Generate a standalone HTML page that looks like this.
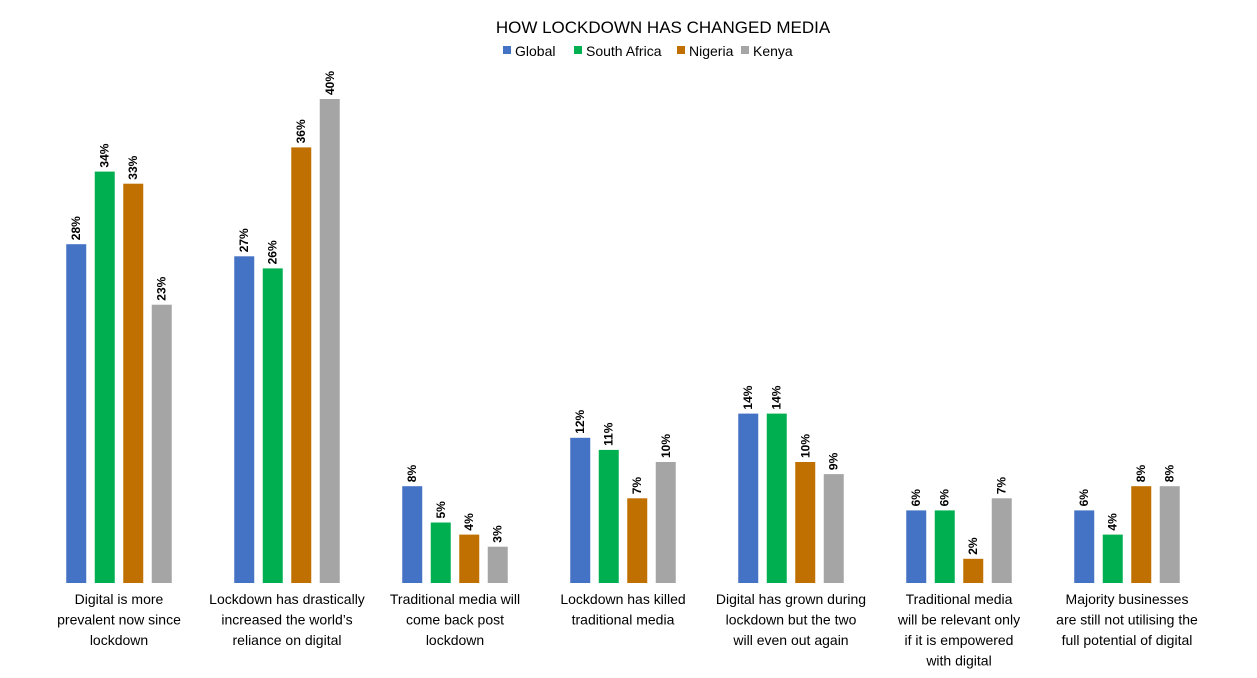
<!DOCTYPE html>
<html><head><meta charset="utf-8"><style>
body{margin:0;background:#fff;font-family:"Liberation Sans",Arial,sans-serif}
svg text{font-family:"Liberation Sans",Arial,sans-serif}
</style></head><body>
<svg id="chart" width="1257" height="673" xmlns="http://www.w3.org/2000/svg">
<text x="663" y="33" text-anchor="middle" font-size="17" fill="#000">HOW LOCKDOWN HAS CHANGED MEDIA</text>
<g id="legend"></g>
<g id="bars"></g>
<g id="cats"></g>
</svg>
<script>
const categories=[["Digital is more","prevalent now since","lockdown"],["Lockdown has drastically","increased the world’s","reliance on digital"],["Traditional media will","come back post","lockdown"],["Lockdown has killed","traditional media"],["Digital has grown during","lockdown but the two","will even out again"],["Traditional media","will be relevant only","if it is empowered","with digital"],["Majority businesses","are still not utilising the","full potential of digital"]];
const seriesNames=["Global","South Africa","Nigeria","Kenya"];
const globalVals=[28,27,8,12,14,6,6];
const southAfricaVals=[34,26,5,11,14,6,4];
const nigeriaVals=[33,36,4,7,10,2,8];
const kenyaVals=[23,40,3,10,9,7,8];
const series=[globalVals,southAfricaVals,nigeriaVals,kenyaVals];
const colors=["#4472C4","#00B050","#BF7000","#A5A5A5"];
const NS="http://www.w3.org/2000/svg";
const base=583,pxPer=12.1,left=35,groupW=168,barW=20,pitch=28.5;
const y=v=>base-v*pxPer;
const gx=i=>left+groupW*i+groupW/2;
function mk(t,a,p){const e=document.createElementNS(NS,t);for(const k in a)e.setAttribute(k,a[k]);p.appendChild(e);return e;}
const bars=document.getElementById('bars');
series.forEach((s,si)=>{s.forEach((v,ci)=>{
 const x=gx(ci)-2*pitch+si*pitch+(pitch-barW)/2;
 const r=mk('rect',{x:x,y:y(v),width:barW,height:v*pxPer,fill:colors[si]},bars);
 
 
 const cx=x+barW/2+4,cy=y(v)-4;
 const t=mk('text',{x:cx,y:cy,transform:`rotate(-90 ${cx} ${cy})`,'font-size':12,'font-weight':'bold',fill:'#000'},bars);
 t.textContent=v+'%';
 
 
});});
const cats=document.getElementById('cats');
categories.forEach((lines,ci)=>{lines.forEach((l,li)=>{
 const t=mk('text',{x:gx(ci),y:604+li*20.5,'text-anchor':'middle','font-size':14,fill:'#000'},cats);
 t.textContent=l;
 
 
});});
const lg=document.getElementById('legend');
const lx=[503,574,677,741];
seriesNames.forEach((n,i)=>{
 const r=mk('rect',{x:lx[i],y:46,width:8,height:8,fill:colors[i]},lg);
 
 
 const t=mk('text',{x:lx[i]+12,y:56,'font-size':14,fill:'#000'},lg);
 t.textContent=n;
 
 
});
</script>
</body></html>
